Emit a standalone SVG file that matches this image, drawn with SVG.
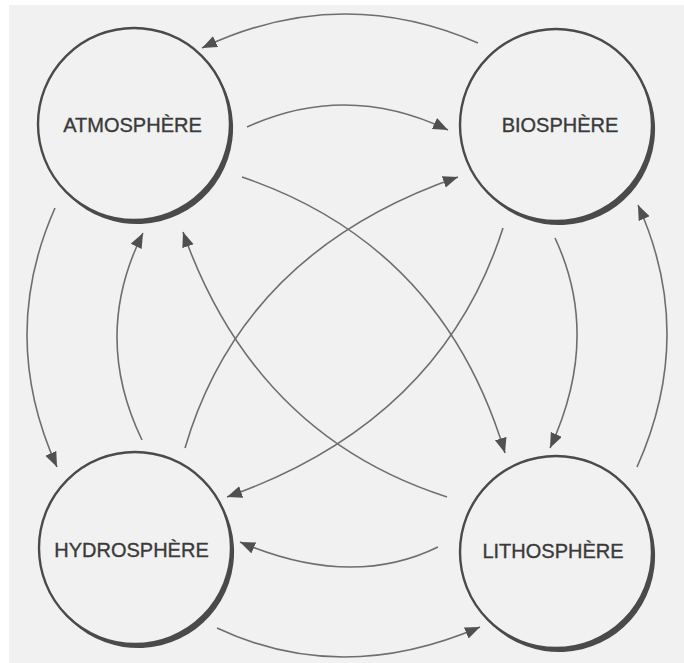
<svg xmlns="http://www.w3.org/2000/svg" xmlns:xlink="http://www.w3.org/1999/xlink" width="684" height="663" viewBox="0 0 684 663">
  <style>
    .ring { fill: none; stroke: #4a4a4a; stroke-width: 2.4; }
    .shade { fill: #4a4a4a; }
    .label { font-family: "Liberation Sans", Arial, sans-serif; font-size: 20px; fill: #3a3a3a; stroke: #3a3a3a; stroke-width: 0.35; text-anchor: middle; }
    .conn path { fill: none; stroke: #6e6e6e; stroke-width: 1.6; marker-end: url(#arrow); }
  </style>
  <defs>
    <marker id="arrow" markerUnits="userSpaceOnUse" markerWidth="17" markerHeight="13" refX="15" refY="6" orient="auto">
      <path d="M0,0 L15,6 L0,12 Z" fill="#505050"/>
    </marker>
    <path id="crescent" d="M78.27,-55.58 A96,96 0 1 1 -75.27,59.58 A96,96 0 0 0 78.27,-55.58 Z"/>
  </defs>
  <rect x="0" y="0" width="684" height="663" fill="#ffffff"/>
  <rect x="9" y="5" width="675" height="658" fill="#f1f1f1"/>

  <g class="conn" id="connectors">
    <path d="M478,43 Q340,-17.5 202,48"/>
    <path d="M247,127 Q347,81.5 448,130"/>
    <path d="M55,208 Q-2,336.5 57,467"/>
    <path d="M142,440 Q91.5,335.5 143,233"/>
    <path d="M447,497 Q255,435.5 183,232"/>
    <path d="M185,448 Q242.5,251.5 458,177"/>
    <path d="M242,177 Q442.5,245 505,453"/>
    <path d="M503,228 Q441,421.5 227,497"/>
    <path d="M555,238 Q601.5,337 550,448"/>
    <path d="M637,467 Q696.5,334 638,205"/>
    <path d="M438,547 Q351,589.5 240,542"/>
    <path d="M217,628 Q341.5,686.5 480,627"/>
  </g>

  <g id="atmosphere">
    <circle class="ring" cx="134" cy="124" r="96"/>
    <use href="#crescent" class="shade" transform="translate(134,124)"/>
    <text class="label" x="132.5" y="132">ATMOSPHÈRE</text>
  </g>
  <g id="biosphere">
    <circle class="ring" cx="556" cy="125" r="96"/>
    <use href="#crescent" class="shade" transform="translate(556,125)"/>
    <text class="label" x="560" y="132">BIOSPHÈRE</text>
  </g>
  <g id="hydrosphere">
    <circle class="ring" cx="135" cy="548" r="96"/>
    <use href="#crescent" class="shade" transform="translate(135,548)"/>
    <text class="label" x="131.5" y="557">HYDROSPHÈRE</text>
  </g>
  <g id="lithosphere">
    <circle class="ring" cx="556" cy="552" r="96"/>
    <use href="#crescent" class="shade" transform="translate(556,552)"/>
    <text class="label" x="553" y="558">LITHOSPHÈRE</text>
  </g>
</svg>
